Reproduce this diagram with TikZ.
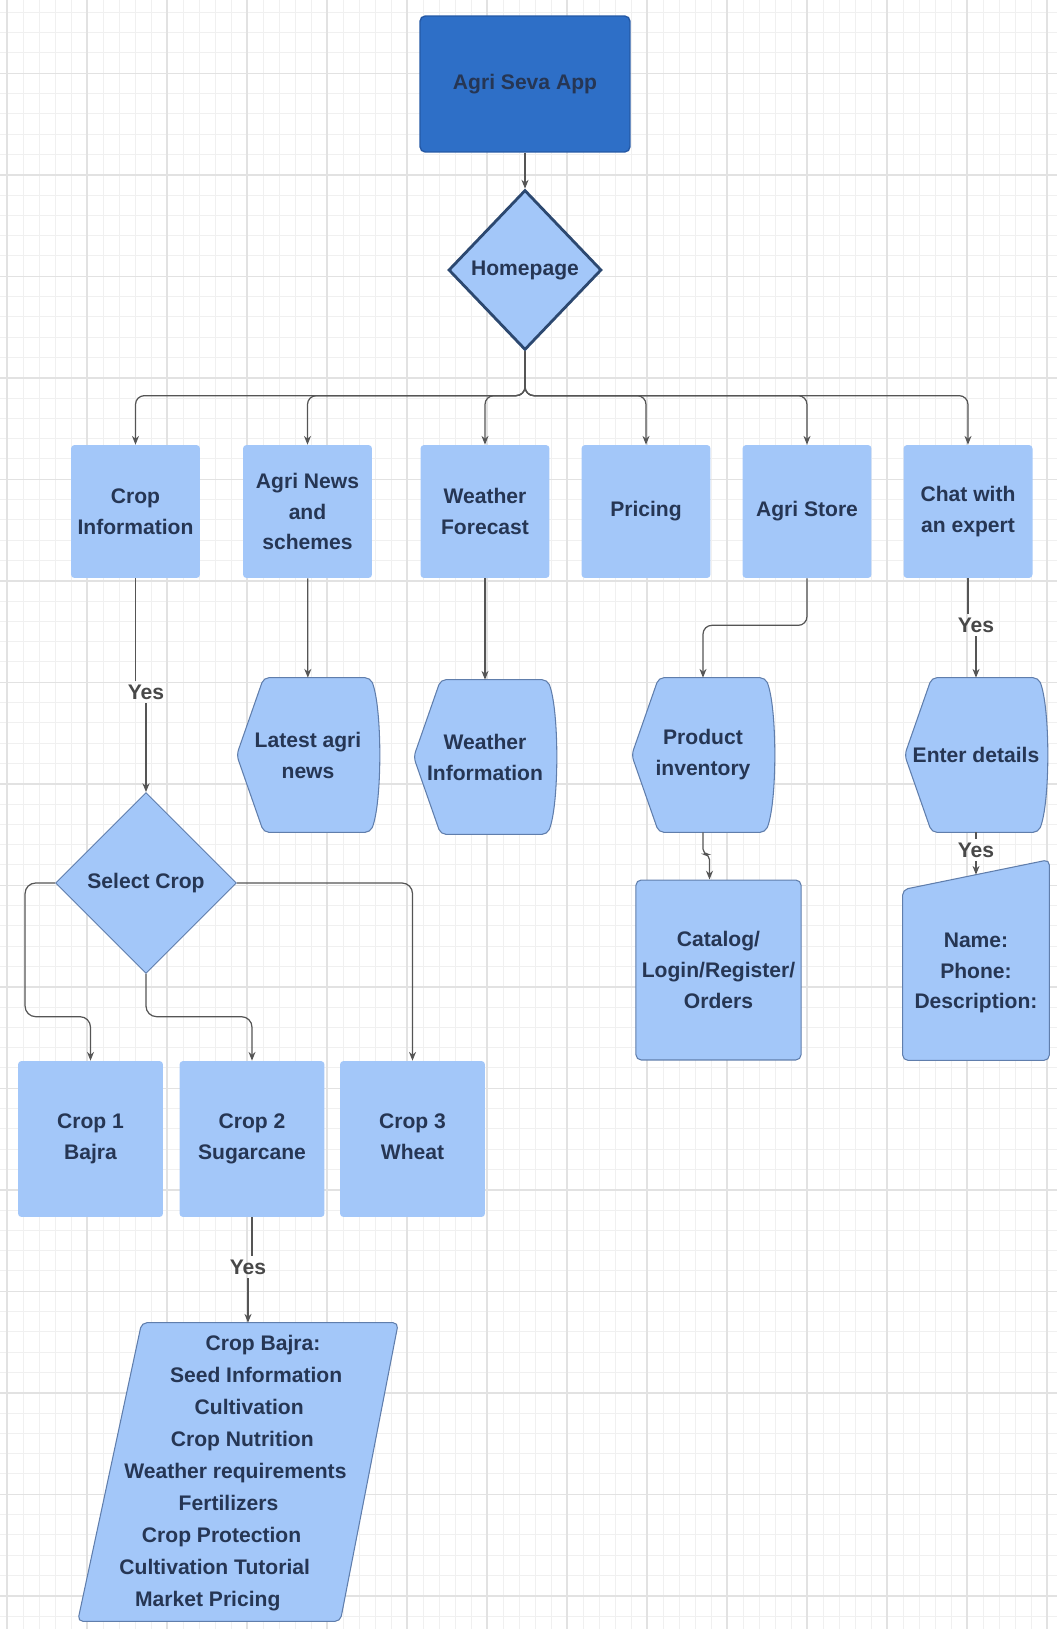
\documentclass[tikz,border=0pt]{standalone}
\usepackage{fontspec}
\setmainfont{Liberation Sans}
\usetikzlibrary{shapes.geometric,arrows.meta,calc,backgrounds}

\definecolor{boxblue}{RGB}{163,199,249}
\definecolor{appblue}{RGB}{46,111,199}
\definecolor{appedge}{RGB}{36,88,165}
\definecolor{edgeblue}{RGB}{96,126,172}
\definecolor{homeedge}{RGB}{44,72,112}
\definecolor{txtblue}{RGB}{38,54,84}
\definecolor{linegray}{RGB}{85,85,85}
\definecolor{gridminor}{RGB}{240,240,240}
\definecolor{gridmajor}{RGB}{226,226,226}

\tikzset{
  lbl/.style={font=\fontsize{12}{17.6}\selectfont\bfseries, text=txtblue, align=center},
  block/.style={lbl, rectangle, rounded corners=2pt, fill=boxblue, minimum width=2.58cm, minimum height=2.66cm, inner sep=1pt},
  cropbox/.style={block, minimum width=2.9cm, minimum height=3.12cm, text depth=2.6pt},
  decision/.style={lbl, diamond, fill=boxblue, inner sep=0pt},
  dispbox/.style={lbl, rectangle, minimum width=2.84cm, minimum height=3.08cm, inner sep=0pt},
  yes/.style={font=\fontsize{12}{14}\selectfont\bfseries, text=linegray!85!black, inner sep=2pt},
  arr/.style={draw=linegray, line width=0.7pt, -{Stealth[length=5pt,width=4pt]}},
  link/.style={draw=linegray, line width=0.7pt},
  outline/.style={fill=boxblue, draw=edgeblue, line width=0.6pt, rounded corners=3pt},
}

\begin{document}
\begin{tikzpicture}[x=0.02cm, y=-0.02cm]
\useasboundingbox (0,0) rectangle (1057,1629);

% squared paper
\begin{scope}[on background layer]
  \foreach \gx in {7,23,...,1057} \draw[gridminor, line width=0.5pt] (\gx,0) -- (\gx,1629);
  \foreach \gy in {12.3,32.6,...,1629} \draw[gridminor, line width=0.5pt] (0,\gy) -- (1057,\gy);
  \foreach \gx in {7,87,...,1057} \draw[gridmajor, line width=0.6pt] (\gx,0) -- (\gx,1629);
  \foreach \gy in {73.5,175,...,1629} \draw[gridmajor, line width=0.6pt] (0,\gy) -- (1057,\gy);
\end{scope}

\node[lbl, rectangle, rounded corners=3pt, fill=appblue, draw=appedge, line width=0.8pt,
      minimum width=4.2cm, minimum height=2.72cm] (app) at (525,84) {Agri Seva App};
\node[decision, draw=homeedge, line width=1.6pt, minimum width=3.06cm, minimum height=3.2cm] (home) at (525,270) {Homepage};

% menu
\node[block] (cropinfo) at (135.5,511.5) {Crop\\Information};
\node[block] (news) at (307.5,511.5) {Agri News\\and\\schemes};
\node[block] (forecast) at (485,511.5) {Weather\\Forecast};
\node[block] (pricing) at (646,511.5) {Pricing};
\node[block] (store) at (807,511.5) {Agri Store};
\node[block] (chat) at (968,511.5) {Chat with\\an expert};

% display screens
\node[dispbox] (latest) at (308,755) {Latest agri\\news};
\node[dispbox] (weatherinfo) at (485,757) {Weather\\Information};
\node[dispbox] (inventory) at (703,755) {Product\\inventory};
\node[dispbox] (enter) at (976,755) {Enter details};

\node[lbl, rectangle, rounded corners=3pt, fill=boxblue, draw=edgeblue, line width=0.6pt,
      minimum width=2.9cm, minimum height=3.6cm] (catalog) at (718.5,970) {Catalog/\\Login/Register/\\Orders};
\node[lbl, minimum width=2.92cm, minimum height=3.48cm] (form) at (976,973) {Name:\\Phone:\\Description:};

% crop branch
\node[decision, draw=edgeblue, line width=0.5pt, minimum width=3.62cm, minimum height=3.62cm] (select) at (146,883) {Select Crop};
\node[cropbox] (crop1) at (90.5,1139) {Crop 1\\Bajra};
\node[cropbox] (crop2) at (252,1139) {Crop 2\\Sugarcane};
\node[cropbox] (crop3) at (412.5,1139) {Crop 3\\Wheat};

\node[minimum width=6.4cm, minimum height=5.96cm] (bajra) at (238,1472) {};
\foreach \t [count=\i from 0] in {Crop Bajra:,Seed Information,Cultivation,Crop Nutrition,Weather requirements,Fertilizers,Crop Protection,Cultivation Tutorial,Market Pricing}
  \node[lbl, text height=9pt, text depth=3pt] (bajra\i) at ({263-6.9*\i},{1345+32*\i}) {\t};

\node[yes] (yes1) at (146,692) {Yes};
\node[yes] (yes2) at (976,625) {Yes};
\node[yes] (yes3) at (976,850) {Yes};
\node[yes] (yes4) at (248,1267) {Yes};

% shaped outlines behind the labels
\begin{scope}[on background layer]
  \foreach \n in {latest,weatherinfo,inventory,enter}
    \draw[outline] (\n.west) -- ($(\n.north west)+(27,0)$) -- ($(\n.north east)+(-9,0)$)
      .. controls ($(\n.north east)+(3,30)$) and ($(\n.south east)+(3,-30)$) .. ($(\n.south east)+(-9,0)$)
      -- ($(\n.south west)+(27,0)$) -- cycle;
  \draw[outline] ($(form.north west)+(0,4)$) -- ($(form.north east)+(0,-26)$) -- (form.south east) -- (form.south west) -- cycle;
  \draw[outline] (bajra.south west) -- ($(bajra.north west)+(64,0)$) -- (bajra.north east) -- ($(bajra.south east)+(-58,0)$) -- cycle;
\end{scope}

% connectors
\draw[arr] (app) -- (home);
\foreach \n in {cropinfo,news,forecast,pricing,store,chat}
  \draw[arr, rounded corners=5pt] (home.south) |- ($(\n.north)+(0,-49)$) -- (\n.north);

\draw[link] (cropinfo) -- (cropinfo |- yes1.north);
\draw[arr] (yes1) -- (select);
\draw[arr] (news) -- (latest);
\draw[arr] (forecast) -- (weatherinfo);
\draw[arr, rounded corners=5pt] (store.south) -- ++(0,47) -| (inventory.north);
\draw[arr, rounded corners=3pt] (inventory.south) -- ++(0,22) -| ($(catalog.north)+(-9,0)$);
\draw[link] (chat) -- (chat |- yes2.north);
\draw[arr] (yes2) -- (enter);
\draw[link] (enter) -- (yes3);
\draw[arr] (yes3) -- ($(form.north)+(0,-11)$);

\draw[arr, rounded corners=6pt] (select.west) -- ++(-30,0) |- ($(crop1.north)+(0,-44)$) -- (crop1.north);
\draw[arr, rounded corners=6pt] (select.south) |- ($(crop2.north)+(0,-44)$) -- (crop2.north);
\draw[arr, rounded corners=6pt] (select.east) -| (crop3.north);
\draw[link] (crop2) -- (crop2 |- yes4.north);
\draw[arr] (yes4) -- (yes4 |- bajra.north);
\end{tikzpicture}
\end{document}
